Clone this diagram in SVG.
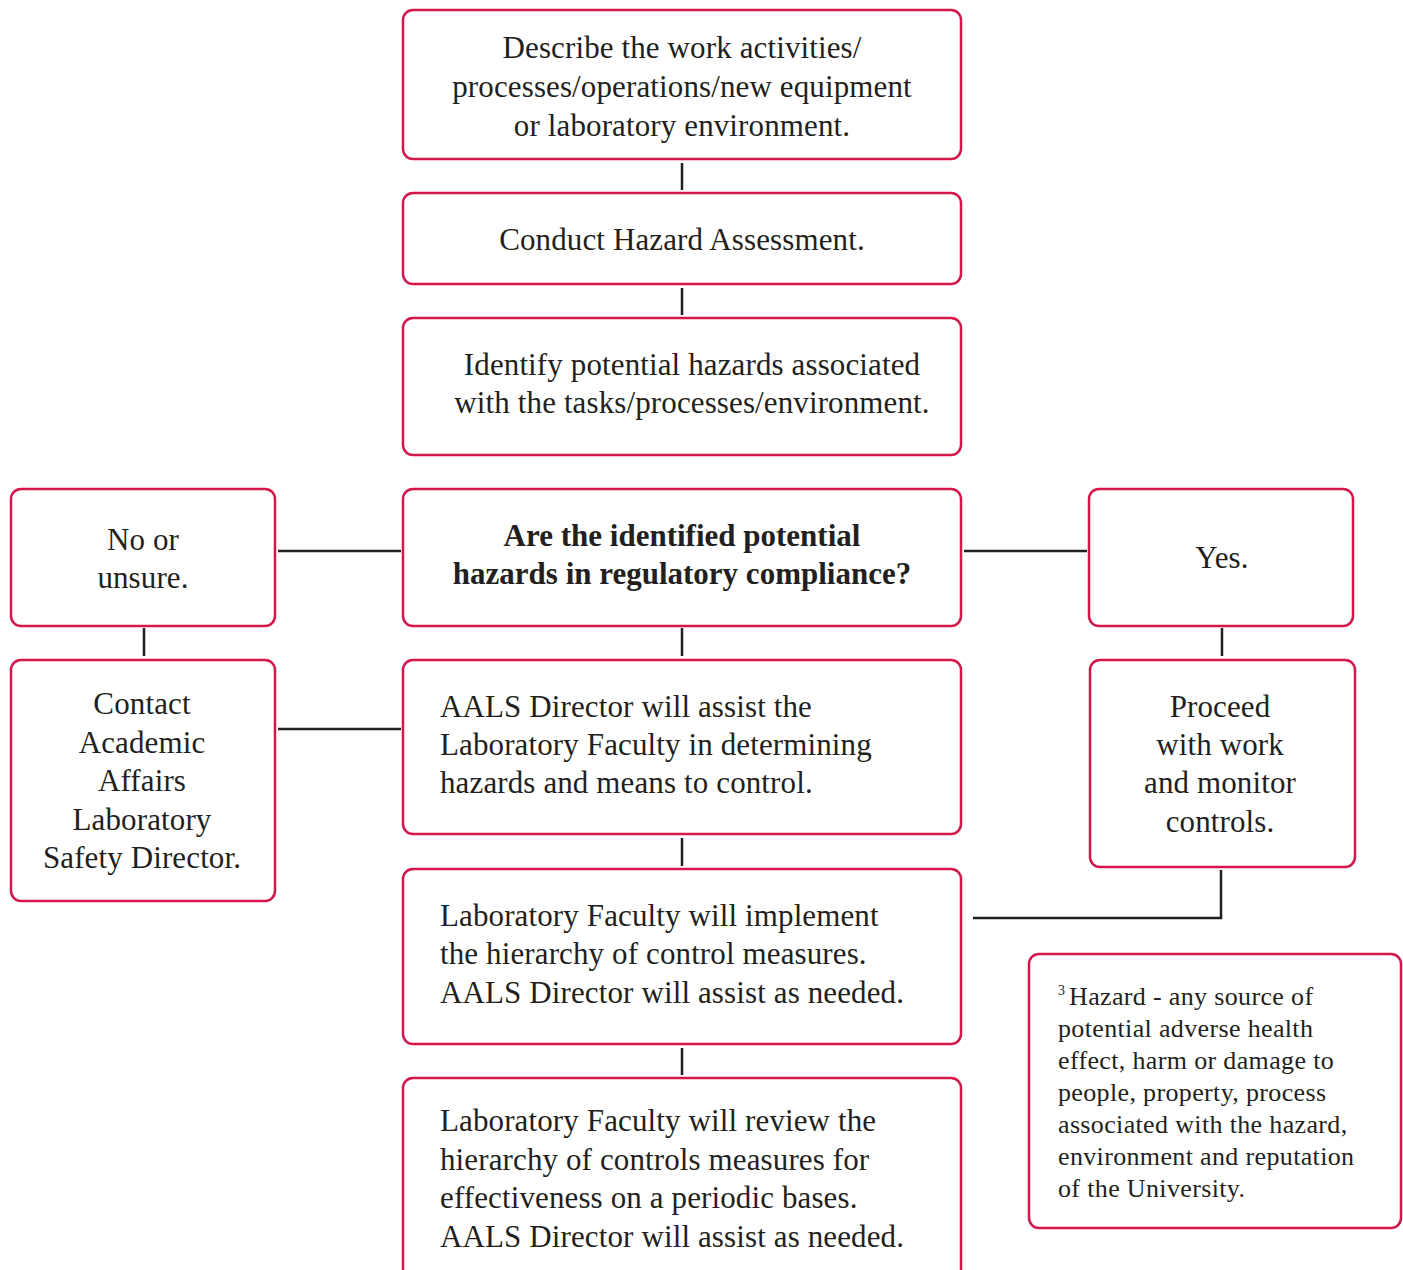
<svg xmlns="http://www.w3.org/2000/svg" width="1403" height="1270" viewBox="0 0 1403 1270">
  <style>
    .box { fill: #ffffff; stroke: #d4174b; stroke-width: 2.5; }
    .t { font-family: "Liberation Serif", "Times New Roman", serif; font-size: 31px; letter-spacing: 0.12px; fill: #231f20; }
    .c { text-anchor: middle; }
    .b { font-weight: bold; letter-spacing: 0; }
    .fn { font-family: "Liberation Serif", "Times New Roman", serif; font-size: 26px; letter-spacing: 0.35px; fill: #231f20; }
    .sup { font-size: 14px; }
    .link { fill: none; stroke: #231f20; stroke-width: 2.5; }
  </style>
  <rect width="1403" height="1270" fill="#ffffff"/>

  <g id="connectors">
    <line class="link" x1="682" y1="163" x2="682" y2="190"/>
    <line class="link" x1="682" y1="288" x2="682" y2="315"/>
    <line class="link" x1="682" y1="628" x2="682" y2="656"/>
    <line class="link" x1="682" y1="838" x2="682" y2="866"/>
    <line class="link" x1="682" y1="1048" x2="682" y2="1075"/>
    <line class="link" x1="278" y1="551" x2="401" y2="551"/>
    <line class="link" x1="964" y1="551" x2="1087" y2="551"/>
    <line class="link" x1="278" y1="729" x2="401" y2="729"/>
    <line class="link" x1="144" y1="628" x2="144" y2="656"/>
    <line class="link" x1="1222" y1="628" x2="1222" y2="656"/>
    <polyline class="link" points="1221,870 1221,918 973,918"/>
  </g>

  <g id="describe">
    <rect class="box" x="403" y="10" width="558" height="149" rx="10"/>
    <text class="t c" x="682" y="58">Describe the work activities/</text>
    <text class="t c" x="682" y="97">processes/operations/new equipment</text>
    <text class="t c" x="682" y="136">or laboratory environment.</text>
  </g>

  <g id="conduct">
    <rect class="box" x="403" y="193" width="558" height="91" rx="10"/>
    <text class="t c" x="682" y="250">Conduct Hazard Assessment.</text>
  </g>

  <g id="identify">
    <rect class="box" x="403" y="318" width="558" height="137" rx="10"/>
    <text class="t c" x="692" y="375">Identify potential hazards associated</text>
    <text class="t c" x="692" y="413">with the tasks/processes/environment.</text>
  </g>

  <g id="question">
    <rect class="box" x="403" y="489" width="558" height="137" rx="10"/>
    <text class="t c b" x="682" y="546">Are the identified potential</text>
    <text class="t c b" x="682" y="584">hazards in regulatory compliance?</text>
  </g>

  <g id="no">
    <rect class="box" x="11" y="489" width="264" height="137" rx="10"/>
    <text class="t c" x="143" y="550">No or</text>
    <text class="t c" x="143" y="588">unsure.</text>
  </g>

  <g id="yes">
    <rect class="box" x="1089" y="489" width="264" height="137" rx="10"/>
    <text class="t c" x="1222" y="568">Yes.</text>
  </g>

  <g id="contact">
    <rect class="box" x="11" y="660" width="264" height="241" rx="10"/>
    <text class="t c" x="142" y="714">Contact</text>
    <text class="t c" x="142" y="753">Academic</text>
    <text class="t c" x="142" y="791">Affairs</text>
    <text class="t c" x="142" y="830">Laboratory</text>
    <text class="t c" x="142" y="868">Safety Director.</text>
  </g>

  <g id="assist">
    <rect class="box" x="403" y="660" width="558" height="174" rx="10"/>
    <text class="t" x="440" y="717">AALS Director will assist the</text>
    <text class="t" x="440" y="755">Laboratory Faculty in determining</text>
    <text class="t" x="440" y="793">hazards and means to control.</text>
  </g>

  <g id="proceed">
    <rect class="box" x="1090" y="660" width="265" height="207" rx="10"/>
    <text class="t c" x="1220" y="717">Proceed</text>
    <text class="t c" x="1220" y="755">with work</text>
    <text class="t c" x="1220" y="793">and monitor</text>
    <text class="t c" x="1220" y="832">controls.</text>
  </g>

  <g id="implement">
    <rect class="box" x="403" y="869" width="558" height="175" rx="10"/>
    <text class="t" x="440" y="926">Laboratory Faculty will implement</text>
    <text class="t" x="440" y="964">the hierarchy of control measures.</text>
    <text class="t" x="440" y="1003">AALS Director will assist as needed.</text>
  </g>

  <g id="review">
    <rect class="box" x="403" y="1078" width="558" height="210" rx="10"/>
    <text class="t" x="440" y="1131">Laboratory Faculty will review the</text>
    <text class="t" x="440" y="1170">hierarchy of controls measures for</text>
    <text class="t" x="440" y="1208">effectiveness on a periodic bases.</text>
    <text class="t" x="440" y="1247">AALS Director will assist as needed.</text>
  </g>

  <g id="footnote">
    <rect class="box" x="1029" y="954" width="372" height="274" rx="10"/>
    <text class="fn" x="1058" y="1005"><tspan class="sup" dy="-10">3</tspan><tspan x="1069" dy="10">Hazard - any source of</tspan></text>
    <text class="fn" x="1058" y="1037">potential adverse health</text>
    <text class="fn" x="1058" y="1069">effect, harm or damage to</text>
    <text class="fn" x="1058" y="1101">people, property, process</text>
    <text class="fn" x="1058" y="1133">associated with the hazard,</text>
    <text class="fn" x="1058" y="1165">environment and reputation</text>
    <text class="fn" x="1058" y="1197">of the University.</text>
  </g>
</svg>
